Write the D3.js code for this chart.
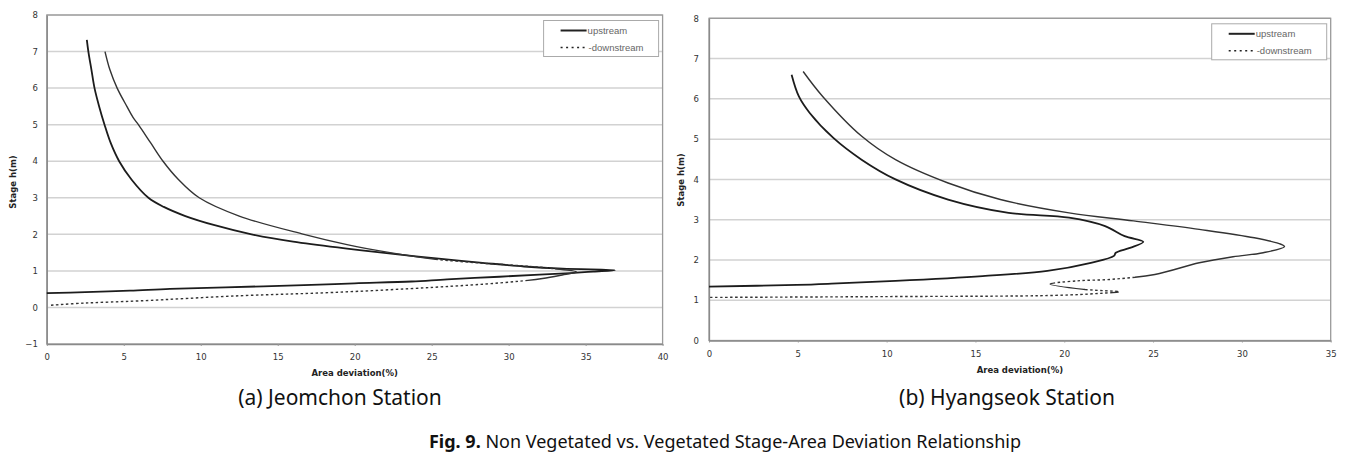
<!DOCTYPE html>
<html>
<head>
<meta charset="utf-8">
<script src="https://cdn.jsdelivr.net/npm/d3@7"></script>
<style>
  body { margin: 0; background: #fff; }
  svg { display: block; }
</style>
</head>
<body>
<script>
// (a) Jeomchon - area deviation (%) vs stage h (m)
var jeomUpX = [2.6, 2.7, 2.9, 3.1, 3.4, 3.75, 4.15, 4.7, 5.5, 6.6, 7.6, 9.0, 10.9, 13.3, 16.0, 19.5, 22.8, 25.3, 28.3, 31.0, 33.5, 36.9,
               35.5, 34.0, 32.0, 29.4, 26.0, 23.7, 20.0, 16.7, 11.6, 8.0, 5.4, 2.5, 0];
var jeomUpH = [7.32, 7.0, 6.5, 6.0, 5.5, 5.0, 4.5, 4.0, 3.5, 3.0, 2.75, 2.5, 2.25, 2.0, 1.8, 1.61, 1.45, 1.34, 1.22, 1.12, 1.06, 1.02,
               0.98, 0.94, 0.9, 0.84, 0.77, 0.71, 0.66, 0.61, 0.55, 0.51, 0.46, 0.42, 0.39];
var jeomDownX = [3.78, 4.1, 4.57, 5.2, 5.6, 5.95, 6.75, 7.55, 8.55, 9.9, 12.5, 16.7, 19.5, 22.3, 25.0, 28.0, 30.8, 33.0, 34.4,
                 33.6, 32.2, 29.4, 25.1, 18.6, 12.55, 6.05, 2.5, 0.2];
var jeomDownH = [7.0, 6.5, 6.0, 5.5, 5.2, 5.0, 4.5, 4.0, 3.5, 3.0, 2.5, 2.0, 1.72, 1.5, 1.33, 1.22, 1.14, 1.06, 0.97,
                 0.9, 0.79, 0.67, 0.55, 0.41, 0.32, 0.18, 0.12, 0.06];

// (b) Hyangseok
var hyangUpX = [4.65, 5.06, 5.67, 7.0, 8.59, 10.5, 13.46, 16.87, 20.27, 22.3, 23.4, 24.45, 23.7, 22.9, 22.8, 21.5, 19.05, 15.4, 10.5, 6.9, 4.94, 0];
var hyangUpH = [6.6, 6.06, 5.65, 5.03, 4.49, 4.0, 3.5, 3.17, 3.05, 2.84, 2.59, 2.45, 2.3, 2.18, 2.1, 1.93, 1.73, 1.6, 1.48, 1.41, 1.38, 1.34];
var hyangDownX = [5.3, 6.4, 8.6, 10.5, 13.46, 16.4, 20.27, 23.9, 27.6, 30.7, 32.2, 32.4, 31.2, 29.5, 27.6, 25.1, 22.7, 20.7, 19.2,
                  21.1, 23.1, 22.0, 19.5, 10.0, 0];
var hyangDownH = [6.68, 6.06, 5.07, 4.49, 3.91, 3.5, 3.17, 2.97, 2.76, 2.55, 2.39, 2.33, 2.18, 2.08, 1.93, 1.64, 1.52, 1.48, 1.4,
                  1.27, 1.21, 1.17, 1.12, 1.09, 1.07];

var jeomTicksX = [0, 5, 10, 15, 20, 25, 30, 35, 40];
var jeomTicksY = [-1, 0, 1, 2, 3, 4, 5, 6, 7, 8];
var hyangTicksX = [0, 5, 10, 15, 20, 25, 30, 35];
var hyangTicksY = [0, 1, 2, 3, 4, 5, 6, 7, 8];

var seriesNames = ['upstream', 'downstream'];
var xTitle = 'Area deviation(%)';
var yTitle = 'Stage h(m)';
var subTitles = ['(a) Jeomchon Station', '(b) Hyangseok Station'];
var figLabel = 'Fig. 9.';
var figText = ' Non Vegetated vs. Vegetated Stage-Area Deviation Relationship';

var width = 1358, height = 467;
var svg = d3.select('body').append('svg')
    .attr('width', width)
    .attr('height', height);

function zip(xs, ys) {
  return xs.map(function(v, i) { return [v, ys[i]]; });
}

// dotted where the curve runs flat, solid where steep (like the old excel look)
function dashPath(path) {
  var node = path.node(), L = node.getTotalLength();
  var modes = [];
  for (var s = 0; s < L; s += 1) {
    var a = node.getPointAtLength(Math.max(0, s - 3)),
        b = node.getPointAtLength(Math.min(L, s + 3));
    modes.push(Math.abs(b.y - a.y) < 0.11 * Math.abs(b.x - a.x) ? 1 : 0);
  }
  var dash = [], i = 0;
  while (i < modes.length) {
    var j = i;
    while (j < modes.length && modes[j] == modes[i]) j++;
    var len = j - i;
    if (modes[i] == 0) {
      dash.push(len, 0);
    } else {
      for (var k = 0; k < len; k += 5) dash.push(2.5, 2.5);
    }
    i = j;
  }
  path.attr('stroke-dasharray', dash.join(' '));
}

function drawPanel(cfg) {
  var g = svg.append('g');
  var x = d3.scaleLinear().domain(cfg.xDomain).range([cfg.left, cfg.right]);
  var y = d3.scaleLinear().domain(cfg.yDomain).range([cfg.bottom, cfg.top]);

  // grid
  g.append('g').selectAll('line')
    .data(cfg.ticksY.slice(1))
    .enter().append('line')
      .attr('x1', cfg.left).attr('x2', cfg.right)
      .attr('y1', function(d) { return y(d); })
      .attr('y2', function(d) { return y(d); })
      .attr('stroke', '#d2d2d2')
      .attr('stroke-width', 1.5);

  // frame
  g.append('rect')
    .attr('x', cfg.left).attr('y', cfg.top)
    .attr('width', cfg.right - cfg.left).attr('height', cfg.bottom - cfg.top)
    .attr('fill', 'none')
    .attr('stroke', '#9a9a9a')
    .attr('stroke-width', 1.3);

  var xAxis = g.append('g')
    .attr('transform', 'translate(0,' + cfg.bottom + ')')
    .call(d3.axisBottom(x).tickValues(cfg.ticksX).tickSizeInner(2).tickSizeOuter(0).tickPadding(8));
  var yAxis = g.append('g')
    .attr('transform', 'translate(' + cfg.left + ',0)')
    .call(d3.axisLeft(y).tickValues(cfg.ticksY).tickSizeInner(0).tickSizeOuter(0).tickPadding(cfg.yPad));
  [xAxis, yAxis].forEach(function(a) {
    a.select('.domain').attr('stroke', '#8a8a8a').attr('stroke-width', 1.3);
    a.selectAll('.tick line').attr('stroke', '#999');
    a.selectAll('.tick text')
      .attr('font-family', 'DejaVu Sans, sans-serif')
      .attr('font-size', 8.5)
      .attr('fill', '#333');
  });

  g.append('text')
    .attr('x', (cfg.left + cfg.right) / 2)
    .attr('y', cfg.bottom + 32)
    .attr('text-anchor', 'middle')
    .attr('font-family', 'DejaVu Sans, sans-serif')
    .attr('font-weight', 'bold')
    .attr('font-size', 8.5)
    .attr('fill', '#222')
    .text(xTitle);
  g.append('text')
    .attr('transform', 'translate(' + cfg.yTitleX + ',' + cfg.yTitleY + ') rotate(-90)')
    .attr('text-anchor', 'middle')
    .attr('font-family', 'DejaVu Sans, sans-serif')
    .attr('font-weight', 'bold')
    .attr('font-size', 8.5)
    .attr('fill', '#222')
    .text(yTitle);

  var line = d3.line()
    .x(function(d) { return x(d[0]); })
    .y(function(d) { return y(d[1]); })
    .curve(d3.curveCatmullRom.alpha(0.5));

  g.append('path')
    .datum(zip(cfg.upX, cfg.upH))
    .attr('d', line)
    .attr('fill', 'none')
    .attr('stroke', '#1c1c1c')
    .attr('stroke-width', 1.8);

  var down = g.append('path')
    .datum(zip(cfg.downX, cfg.downH))
    .attr('d', line)
    .attr('fill', 'none')
    .attr('stroke', '#333')
    .attr('stroke-width', 1.4);
  dashPath(down);

  // legend
  var lx = cfg.right - 119, ly = cfg.top + 5.5;
  var leg = g.append('g').attr('transform', 'translate(' + lx + ',' + ly + ')');
  leg.append('rect')
    .attr('width', 115).attr('height', 36)
    .attr('fill', '#fff')
    .attr('stroke', '#aaa')
    .attr('stroke-width', 1);
  var item = leg.selectAll('g.item')
    .data(seriesNames)
    .enter().append('g')
      .attr('class', 'item')
      .attr('transform', function(d, i) { return 'translate(0,' + (10 + i * 17) + ')'; });
  item.append('line')
    .attr('x1', 17).attr('x2', 43)
    .attr('stroke', '#222')
    .attr('stroke-width', function(d, i) { return i == 0 ? 2 : 1.6; })
    .attr('stroke-dasharray', function(d, i) { return i == 0 ? null : '2,3.5'; });
  item.append('text')
    .attr('x', function(d, i) { return i == 0 ? 44 : 45; })
    .attr('dy', '0.35em')
    .attr('font-family', 'Liberation Sans, Arial, sans-serif')
    .attr('font-size', 9.5)
    .attr('fill', '#666')
    .text(function(d, i) { return i == 0 ? d : '-' + d; });

  svg.append('text')
    .attr('x', cfg.subX)
    .attr('y', 405)
    .attr('text-anchor', 'middle')
    .attr('font-family', 'Noto Sans, sans-serif')
    .attr('font-size', 21)
    .attr('fill', '#111')
    .text(cfg.sub);
}

drawPanel({
  left: 46.8, right: 662.6, top: 15, bottom: 344,
  xDomain: [0, 40], yDomain: [-1, 8],
  ticksX: jeomTicksX, ticksY: jeomTicksY, yPad: 9,
  upX: jeomUpX, upH: jeomUpH, downX: jeomDownX, downH: jeomDownH,
  yTitleX: 16, yTitleY: 182,
  sub: subTitles[0], subX: 340
});
drawPanel({
  left: 709, right: 1330.7, top: 18.3, bottom: 340.5,
  xDomain: [0, 35], yDomain: [0, 8],
  ticksX: hyangTicksX, ticksY: hyangTicksY, yPad: 10,
  upX: hyangUpX, upH: hyangUpH, downX: hyangDownX, downH: hyangDownH,
  yTitleX: 684, yTitleY: 180,
  sub: subTitles[1], subX: 1007
});

var cap = svg.append('text')
  .attr('x', 725)
  .attr('y', 448)
  .attr('text-anchor', 'middle')
  .attr('font-family', 'Noto Sans, sans-serif')
  .attr('font-size', 18)
  .attr('fill', '#111');
cap.append('tspan').attr('font-weight', 'bold').text(figLabel);
cap.append('tspan').text(figText);
</script>
</body>
</html>
